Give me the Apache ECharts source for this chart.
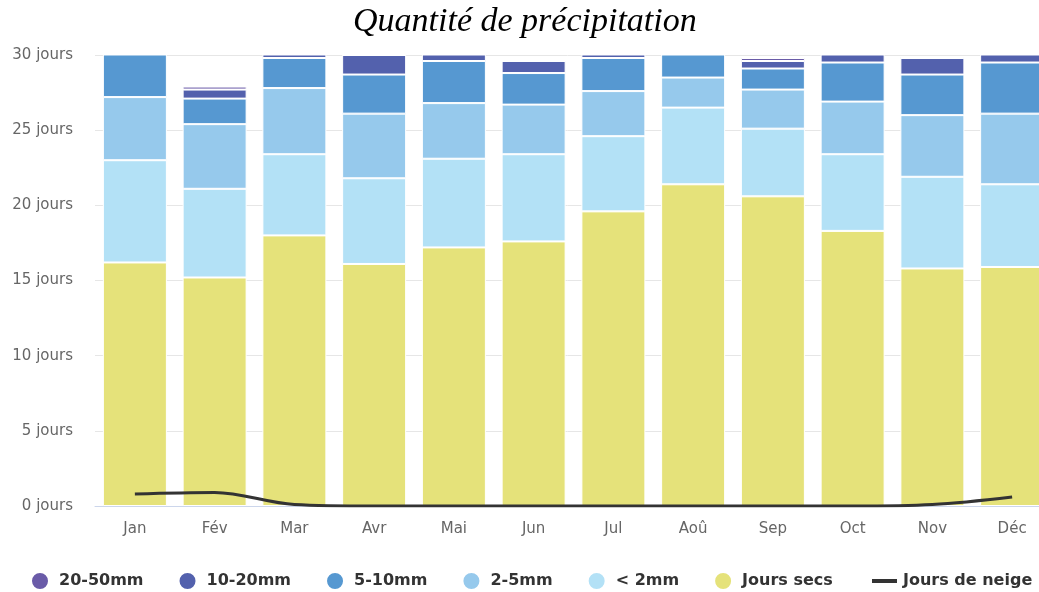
<!DOCTYPE html>
<html>
<head>
<meta charset="utf-8">
<title>Quantité de précipitation</title>
<script src="https://cdn.jsdelivr.net/npm/echarts@6/dist/echarts.min.js"></script>
<style>
  html, body { margin: 0; padding: 0; background: #fff; }
  #chart { width: 1039px; height: 592px; }
</style>
</head>
<body>
<div id="chart"></div>
<script>
// Monthly number of days by precipitation class
const months = ['Jan', 'Fév', 'Mar', 'Avr', 'Mai', 'Jun', 'Jul', 'Aoû', 'Sep', 'Oct', 'Nov', 'Déc'];

const joursSecs = [16.2, 15.2, 18.0, 16.1, 17.2, 17.6, 19.6, 21.4, 20.6, 18.3, 15.8, 15.9];
const moins2mm  = [6.8, 5.9, 5.4, 5.7, 5.9, 5.8, 5.0, 5.1, 4.5, 5.1, 6.1, 5.5];
const de2a5mm   = [4.2, 4.3, 4.4, 4.3, 3.7, 3.3, 3.0, 2.0, 2.6, 3.5, 4.1, 4.7];
const de5a10mm  = [3.4, 1.7, 2.0, 2.6, 2.8, 2.1, 2.2, 2.0, 1.4, 2.6, 2.7, 3.4];
const de10a20mm = [0.4, 0.6, 1.0, 1.3, 1.2, 0.8, 1.0, 0.5, 0.5, 1.3, 1.1, 1.3];
const de20a50mm = [0.0, 0.2, 0.2, 0.0, 0.2, 0.0, 0.2, 0.0, 0.2, 0.2, 0.1, 0.2];
const joursNeige = [0.8, 0.9, 0.1, 0, 0, 0, 0, 0, 0, 0, 0.1, 0.6];

const yTicks = { min: 0, max: 30, interval: 5 };

const FONT = 'DejaVu Sans';

function barSeries(name, data, color) {
  return {
    name: name,
    type: 'bar',
    stack: 'jours',
    data: data,
    barWidth: 64,
    clip: true,
    itemStyle: { color: color, borderColor: '#ffffff', borderWidth: 1 },
    emphasis: { disabled: true }
  };
}

const chart = echarts.init(document.getElementById('chart'), null, { renderer: 'canvas' });

chart.setOption({
  animation: false,
  backgroundColor: '#ffffff',
  title: {
    text: 'Quantité de précipitation',
    left: 353,
    top: 5,
    padding: 0,
    textStyle: {
      fontFamily: 'Liberation Serif',
      fontStyle: 'italic',
      fontWeight: 'normal',
      fontSize: 34,
      color: '#000000'
    }
  },
  legend: [
    {
      data: ['20-50mm', '10-20mm', '5-10mm', '2-5mm', '< 2mm', 'Jours secs'],
      left: 25,
      top: 566,
      icon: 'circle',
      itemWidth: 18,
      itemHeight: 18,
      itemGap: 34,
      textStyle: {
        fontFamily: FONT,
        fontSize: 16,
        fontWeight: 'bold',
        color: '#333333',
        padding: [0, 0, 0, 5]
      }
    },
    {
      data: ['Jours de neige'],
      left: 867,
      top: 568,
      icon: 'rect',
      itemWidth: 25,
      itemHeight: 4,
      textStyle: {
        fontFamily: FONT,
        fontSize: 16,
        fontWeight: 'bold',
        color: '#333333',
        padding: [0, 0, 0, 1]
      }
    }
  ],
  grid: {
    left: 95,
    width: 957,
    top: 55,
    bottom: 86,
    containLabel: false,
    outerBoundsMode: 'none'
  },
  xAxis: {
    type: 'category',
    data: months,
    axisLine: { lineStyle: { color: '#ccd6eb', width: 1 } },
    axisTick: { alignWithLabel: true, length: 12, lineStyle: { color: '#ccd6eb' } },
    axisLabel: { fontFamily: FONT, fontSize: 15, color: '#666666', margin: 16 }
  },
  yAxis: {
    type: 'value',
    min: yTicks.min,
    max: yTicks.max,
    interval: yTicks.interval,
    axisLine: { show: false },
    axisTick: { show: false },
    splitLine: { lineStyle: { color: '#e6e6e6', width: 1 } },
    axisLabel: {
      fontFamily: FONT,
      fontSize: 15,
      color: '#666666',
      margin: 22,
      formatter: '{value} jours'
    }
  },
  series: [
    barSeries('Jours secs', joursSecs, '#e5e27a'),
    barSeries('< 2mm', moins2mm, '#b3e1f6'),
    barSeries('2-5mm', de2a5mm, '#96c9ec'),
    barSeries('5-10mm', de5a10mm, '#5698d1'),
    barSeries('10-20mm', de10a20mm, '#5361ad'),
    barSeries('20-50mm', de20a50mm, '#6a5ba8'),
    {
      name: 'Jours de neige',
      type: 'line',
      data: joursNeige,
      smooth: 0.35,
      symbol: 'none',
      z: 5,
      itemStyle: { color: '#333333' },
      lineStyle: { color: '#333333', width: 3 },
      emphasis: { disabled: true }
    }
  ]
});
</script>
</body>
</html>
